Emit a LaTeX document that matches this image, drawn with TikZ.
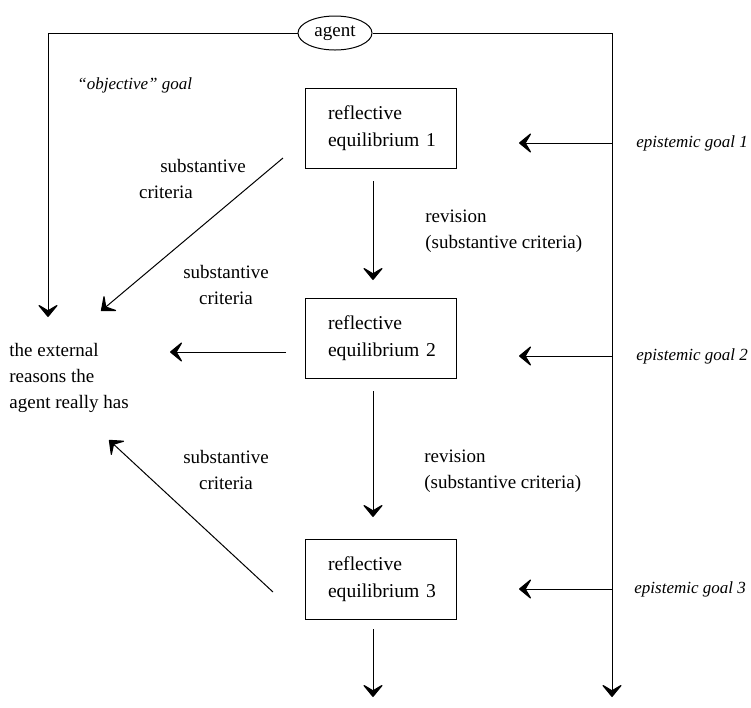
\documentclass[tikz,border=0pt]{standalone}
\usepackage{fontspec}
\setmainfont{Liberation Serif}
\usetikzlibrary{arrows.meta,shapes.geometric}
\tikzset{
  lbl/.style={font=\fontsize{9.5}{13}\selectfont, inner sep=0pt},
  itlbl/.style={inner sep=0pt, font=\fontsize{8.5}{13}\selectfont\itshape},
  eqbox/.style={draw, line width=0.5pt, minimum width=75.5pt, minimum height=40pt,
    text width=52.5pt, inner xsep=11.5pt, align=left, font=\fontsize{9.8}{13.5}\selectfont},
  agentnode/.style={draw, ellipse, line width=0.5pt, minimum width=37pt, minimum height=17pt, inner sep=1pt,
    font=\fontsize{9.5}{13}\selectfont},
  arr/.style={line width=0.5pt, -{Stealth[length=7pt,width=11.5pt,inset=3.4pt,round,line width=0.6pt]}}
}
\begin{document}
\begin{tikzpicture}[x=0.5pt,y=-0.5pt]
\useasboundingbox (0,0) rectangle (751,708);
% nodes
\node[agentnode] (agent) at (335,33) {agent};
\node[eqbox] (b1) at (380.5,128) {reflective\\\mbox{equilibrium 1}};
\node[eqbox] (b2) at (380.5,338) {reflective\\\mbox{equilibrium 2}};
\node[eqbox] (b3) at (380.5,579.5) {reflective\\\mbox{equilibrium 3}};
\node[lbl, anchor=west, align=left] (ext) at (9,378) {the external\\reasons the\\agent really has};
% labels
\node[itlbl, anchor=west] (obj) at (77,85) {“objective” goal};
\node[itlbl, anchor=west] (eg1) at (636,143) {epistemic goal 1};
\node[itlbl, anchor=west] (eg2) at (636,356) {epistemic goal 2};
\node[itlbl, anchor=west] (eg3) at (634,589) {epistemic goal 3};
\node[lbl] (sc1a) at (203,166) {substantive};
\node[lbl] (sc1b) at (166,192) {criteria};
\node[lbl, align=center] (sc2) at (226,285) {substantive\\criteria};
\node[lbl, align=center] (sc3) at (226,470) {substantive\\criteria};
\node[lbl, anchor=west, align=left] (rev1) at (425,231) {revision\\(substantive criteria)};
\node[lbl, anchor=west, align=left] (rev2) at (424,471) {revision\\(substantive criteria)};
% coordinates
\coordinate (tl) at (48,33);
\coordinate (tlend) at (48,317);
\coordinate (tr) at (612,33);
\coordinate (trend) at (612,697);
\coordinate (r1) at (612,143);
\coordinate (r2) at (612,356);
\coordinate (r3) at (612,589);
\coordinate (t1) at (519,143);
\coordinate (t2) at (519,356);
\coordinate (t3) at (519,589);
\coordinate (d1s) at (373,181);
\coordinate (d1e) at (373,280);
\coordinate (d2s) at (373,391);
\coordinate (d2e) at (373,517);
\coordinate (d3s) at (373,629);
\coordinate (d3e) at (373,697);
\coordinate (g1s) at (283,158);
\coordinate (g1e) at (101,311);
\coordinate (h2s) at (286,352);
\coordinate (h2e) at (170,352);
\coordinate (g3s) at (273,592);
\coordinate (g3e) at (109,440);
% connectors
\draw[arr] (agent.west) -- (tl) -- (tlend);
\draw[arr] (agent.east) -- (tr) -- (trend);
\draw[arr] (r1) -- (t1);
\draw[arr] (r2) -- (t2);
\draw[arr] (r3) -- (t3);
\draw[arr] (d1s) -- (d1e);
\draw[arr] (d2s) -- (d2e);
\draw[arr] (d3s) -- (d3e);
\draw[arr] (g1s) -- (g1e);
\draw[arr] (h2s) -- (h2e);
\draw[arr] (g3s) -- (g3e);
\end{tikzpicture}
\end{document}
